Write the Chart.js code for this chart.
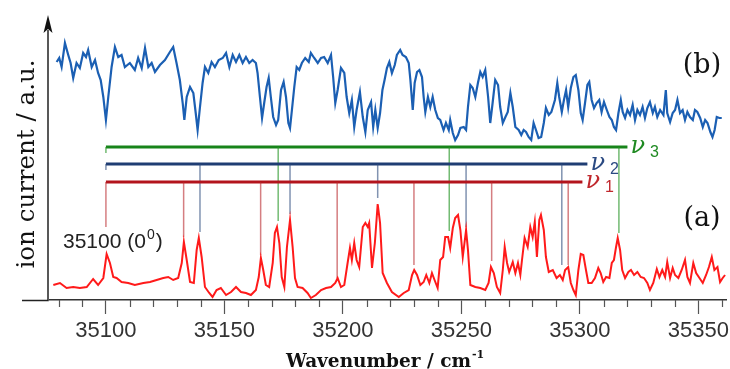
<!DOCTYPE html>
<html>
<head>
<meta charset="utf-8">
<script src="https://cdn.jsdelivr.net/npm/chart.js@4.4.0/dist/chart.umd.min.js"></script>
<style>
  html, body { margin: 0; padding: 0; background: #fff; }
  #wrap { width: 730px; height: 369px; }
</style>
</head>
<body>
<div id="wrap"><canvas id="spectrum" width="730" height="369"></canvas></div>
<script>
// x range and tick labels (cm-1)
const xMin = 35076.4
const xMax = 35361.7
const tickLabels = [35100, 35150, 35200, 35250, 35300, 35350]

// (a) lower trace, red
const redWavenumber = [
  35077.8, 35080.6, 35083.4, 35086.2, 35089.0, 35091.9, 35094.6, 35096.7, 35098.9, 35100.3,
  35101.7, 35103.1, 35104.5, 35106.6, 35109.4, 35112.2, 35115.8, 35118.6, 35121.4, 35124.2,
  35126.3, 35128.4, 35130.5, 35132.0, 35132.9, 35134.1, 35135.5, 35137.1, 35138.3, 35139.2,
  35140.4, 35141.8, 35143.6, 35145.0, 35146.7, 35148.5, 35150.7, 35152.8, 35154.9, 35157.0,
  35159.1, 35161.2, 35163.3, 35164.5, 35165.4, 35166.4, 35167.5, 35168.9, 35170.4, 35171.3,
  35172.2, 35173.2, 35174.2, 35175.3, 35176.4, 35177.7, 35178.8, 35179.8, 35180.9, 35183.0,
  35185.1, 35186.5, 35188.6, 35190.8, 35192.9, 35195.0, 35196.8, 35197.8, 35199.2, 35200.6,
  35202.0, 35203.0, 35203.8, 35204.8, 35205.8, 35206.9, 35208.4, 35209.5, 35210.5, 35211.1,
  35212.3, 35213.5, 35214.7, 35215.7, 35216.8, 35218.6, 35220.7, 35223.6, 35225.7, 35227.8,
  35229.2, 35230.1, 35231.3, 35232.7, 35234.1, 35235.2, 35236.5, 35237.6, 35238.7, 35240.0,
  35241.1, 35242.3, 35243.2, 35244.4, 35245.3, 35246.4, 35247.4, 35248.6, 35249.6, 35250.6,
  35252.0, 35252.8, 35253.8, 35255.9, 35258.0, 35260.1, 35261.5, 35262.5, 35263.7, 35265.0,
  35266.4, 35267.5, 35268.3, 35269.3, 35270.2, 35271.7, 35272.8, 35273.9, 35274.9, 35275.6,
  35276.7, 35278.0, 35279.1, 35280.1, 35281.0, 35281.9, 35282.9, 35283.6, 35284.8, 35285.7,
  35286.9, 35288.6, 35290.2, 35291.6, 35292.8, 35293.8, 35295.1, 35296.2, 35297.3, 35298.3,
  35299.4, 35300.4, 35301.5, 35302.6, 35303.6, 35305.0, 35306.4, 35307.8, 35308.8, 35309.9,
  35311.1, 35312.5, 35313.5, 35314.4, 35315.3, 35316.0, 35317.0, 35317.9, 35319.1, 35320.5,
  35321.6, 35322.9, 35324.3, 35325.7, 35327.1, 35328.5, 35329.6, 35331.0, 35332.5, 35333.6,
  35334.8, 35336.0, 35336.9, 35338.1, 35339.2, 35340.2, 35341.6, 35343.0, 35344.4, 35345.4,
  35346.5, 35347.9, 35349.1, 35350.5, 35351.9, 35353.3, 35354.5, 35355.7, 35356.8, 35358.1,
  35359.2, 35360.3, 35361.3
]
const redSignal = [
  15, 17, 12, 13, 12, 13, 21, 15, 22, 46,
  37, 23, 22, 18, 17, 15, 17, 18, 20, 22,
  23, 20, 22, 37, 58, 40, 18, 17, 50, 62,
  43, 13, 7, 3, 10, 12, 5, 8, 13, 8,
  7, 5, 10, 23, 42, 30, 15, 13, 37, 67,
  73, 57, 23, 13, 53, 80, 53, 22, 13, 12,
  7, 2, 5, 10, 12, 13, 17, 22, 13, 15,
  37, 52, 40, 57, 40, 33, 73, 77, 73, 77,
  32, 57, 96, 77, 27, 17, 8, 3, 7, 10,
  25, 30, 25, 15, 18, 25, 17, 27, 20, 12,
  40, 43, 63, 63, 52, 72, 82, 85, 70, 43,
  70, 50, 15, 13, 12, 10, 17, 33, 27, 13,
  7, 30, 53, 37, 28, 38, 27, 37, 25, 40,
  62, 53, 73, 63, 78, 43, 80, 85, 70, 43,
  28, 30, 22, 25, 20, 30, 33, 17, 10, 5,
  30, 46, 45, 30, 17, 17, 22, 32, 27, 18,
  23, 22, 37, 40, 53, 62, 50, 30, 22, 28,
  30, 25, 28, 23, 22, 17, 10, 17, 31, 23,
  30, 23, 38, 22, 32, 25, 22, 30, 40, 23,
  17, 37, 27, 22, 17, 25, 33, 43, 30, 33,
  18, 22, 25
]

// (b) upper trace, blue
const blueWavenumber = [
  35079.2, 35080.3, 35081.3, 35082.7, 35084.1, 35085.1, 35086.2, 35087.6, 35089.0, 35090.4,
  35091.6, 35092.5, 35094.0, 35095.4, 35096.7, 35097.8, 35098.9, 35100.0, 35101.0, 35102.4,
  35103.8, 35105.2, 35106.6, 35108.0, 35110.1, 35112.2, 35113.6, 35115.1, 35116.5, 35117.9,
  35119.3, 35120.7, 35122.8, 35124.9, 35127.0, 35128.4, 35129.8, 35131.2, 35132.4, 35133.1,
  35134.1, 35135.5, 35136.9, 35137.9, 35138.7, 35139.7, 35140.8, 35141.8, 35143.2, 35144.6,
  35146.0, 35147.6, 35149.3, 35150.7, 35152.1, 35153.5, 35154.9, 35156.3, 35157.7, 35159.1,
  35160.5, 35161.9, 35163.3, 35164.0, 35165.0, 35165.9, 35166.8, 35167.8, 35168.7, 35169.6,
  35170.6, 35171.8, 35172.7, 35173.9, 35175.0, 35176.0, 35177.0, 35177.7, 35178.5, 35179.5,
  35180.5, 35181.6, 35182.7, 35184.1, 35185.6, 35186.5, 35187.9, 35189.4, 35190.8, 35192.1,
  35193.6, 35195.0, 35195.9, 35196.8, 35197.8, 35199.2, 35200.6, 35201.6, 35202.7, 35203.8,
  35204.8, 35205.8, 35207.2, 35208.4, 35209.5, 35210.5, 35211.9, 35212.8, 35213.7, 35214.7,
  35215.7, 35216.7, 35217.6, 35218.6, 35219.6, 35220.7, 35221.9, 35222.8, 35224.2, 35225.2,
  35226.6, 35227.8, 35228.5, 35229.5, 35230.3, 35231.3, 35232.3, 35233.4, 35234.1, 35234.8,
  35235.9, 35236.9, 35237.9, 35239.0, 35240.1, 35241.1, 35242.5, 35243.5, 35244.7, 35245.3,
  35246.4, 35247.4, 35248.6, 35249.6, 35251.0, 35252.0, 35252.8, 35253.8, 35254.8, 35255.9,
  35257.0, 35258.0, 35259.0, 35260.1, 35261.3, 35262.2, 35263.2, 35264.3, 35265.5, 35266.4,
  35267.5, 35268.6, 35269.6, 35270.7, 35271.7, 35272.8, 35274.2, 35275.3, 35276.3, 35277.3,
  35278.4, 35279.5, 35280.5, 35281.5, 35282.6, 35283.7, 35284.8, 35285.7, 35286.9, 35288.0,
  35289.5, 35290.5, 35291.3, 35292.4, 35293.3, 35294.2, 35295.1, 35296.2, 35297.3, 35298.3,
  35299.4, 35300.4, 35301.2, 35302.2, 35303.2, 35304.0, 35305.0, 35306.0, 35307.1, 35308.2,
  35309.2, 35310.2, 35311.4, 35312.5, 35313.5, 35314.4, 35315.3, 35316.3, 35317.3, 35318.1,
  35319.1, 35320.1, 35321.2, 35322.3, 35323.3, 35324.3, 35325.4, 35326.5, 35327.5, 35328.5,
  35329.6, 35330.8, 35331.7, 35332.7, 35333.9, 35335.3, 35336.3, 35336.9, 35338.1, 35339.2,
  35340.2, 35341.2, 35342.3, 35343.4, 35344.4, 35345.4, 35346.5, 35347.7, 35348.6, 35349.6,
  35350.8, 35351.9, 35352.9, 35353.9, 35355.1, 35356.0, 35356.9, 35357.8, 35358.9, 35359.9
]
const blueSignal = [
  238, 242, 233, 257, 245, 237, 222, 237, 232, 247,
  243, 250, 233, 240, 227, 220, 203, 180, 203, 233,
  253, 243, 245, 233, 237, 230, 242, 232, 252, 233,
  237, 228, 235, 240, 248, 253, 237, 220, 197, 180,
  203, 213, 207, 187, 170, 193, 217, 233, 227, 238,
  233, 240, 242, 247, 233, 245, 238, 245, 237, 243,
  237, 240, 237, 227, 203, 182, 197, 213, 222, 203,
  183, 175, 180, 210, 218, 203, 177, 172, 190, 213,
  233, 230, 237, 242, 238, 247, 242, 237, 242, 243,
  237, 245, 223, 197, 210, 232, 227, 203, 187, 200,
  173, 190, 208, 183, 168, 190, 198, 173, 190, 172,
  187, 210, 220, 232, 238, 227, 235, 245, 250, 245,
  243, 237, 220, 190, 217, 228, 230, 223, 203, 188,
  203, 193, 203, 190, 182, 180, 170, 177, 170, 180,
  167, 160, 165, 172, 173, 170, 193, 215, 212, 203,
  217, 228, 223, 230, 203, 177, 197, 220, 215, 193,
  177, 183, 188, 207, 193, 173, 170, 165, 170, 168,
  163, 160, 177, 170, 162, 163, 177, 192, 185, 188,
  200, 217, 203, 188, 200, 210, 193, 212, 223, 225,
  210, 187, 180, 197, 215, 218, 200, 192, 197, 200,
  188, 198, 190, 183, 180, 173, 170, 187, 200, 188,
  182, 190, 185, 195, 180, 190, 185, 193, 182, 192,
  198, 187, 193, 183, 190, 185, 210, 187, 178, 187,
  190, 200, 187, 190, 180, 188, 183, 180, 190, 188,
  182, 173, 180, 177, 168, 163, 170, 183, 182, 182
]

// progressions: band positions, level of the bar and lower end of each marker
const nu1Position = [35100, 35132.8, 35165.3, 35197.6, 35230.0, 35262.8, 35295.1]
const nu1Bottom = [73, 63, 45, 22, 35, 39, 35]
const nu1Level = 118
const nu1End = 35301.1

const nu2Position = [35100, 35139.7, 35177.7, 35214.7, 35252.0, 35292.4]
const nu2Bottom = [130, 68, 86, 102, 73, 35]
const nu2Level = 136
const nu2End = 35303.2

const nu3Position = [35100, 35172.7, 35244.9, 35316.5]
const nu3Bottom = [147, 79, 69, 67]
const nu3Level = 153
const nu3End = 35320.1

const toPoints = (xs, ys) => xs.map((v, i) => ({ x: v, y: ys[i] }))

function markerPoints(pos, bottom, level) {
  const pts = []
  pos.forEach((p, i) => {
    pts.push({ x: p, y: level }, { x: p, y: bottom[i] }, { x: p, y: null })
  })
  return pts
}

const progressions = [
  { name: '1', pos: nu1Position, bottom: nu1Bottom, level: nu1Level, end: nu1End,
    bar: '#b3141c', mark: 'rgba(185, 40, 45, 0.6)', text: '#c0282d' },
  { name: '2', pos: nu2Position, bottom: nu2Bottom, level: nu2Level, end: nu2End,
    bar: '#1f3d73', mark: 'rgba(45, 75, 125, 0.6)', text: '#2b4a82' },
  { name: '3', pos: nu3Position, bottom: nu3Bottom, level: nu3Level, end: nu3End,
    bar: '#17841a', mark: 'rgba(40, 150, 40, 0.65)', text: '#1f8a22' }
]

const datasets = [
  { data: toPoints(blueWavenumber, blueSignal), borderColor: '#1b5fb3', borderWidth: 2.2 },
  { data: toPoints(redWavenumber, redSignal), borderColor: '#ff1a1a', borderWidth: 2 }
]
progressions.forEach(p => {
  datasets.push({ data: markerPoints(p.pos, p.bottom, p.level), borderColor: p.mark, borderWidth: 1.5, spanGaps: false })
  datasets.push({ data: [{ x: p.pos[0], y: p.level }, { x: p.end, y: p.level }], borderColor: p.bar, borderWidth: 3 })
})

// minor ticks, y axis arrow and all the text
const decorations = {
  id: 'decorations',
  afterDraw(chart) {
    const { ctx, chartArea } = chart
    const x = chart.scales.x
    const y = chart.scales.y
    const base = chartArea.bottom
    ctx.save()

    // minor ticks every 10 cm-1
    ctx.strokeStyle = '#555'
    ctx.lineWidth = 1.2
    x.ticks.forEach(t => {
      if (Math.round(t.value) % 50 !== 0) {
        const px = Math.round(x.getPixelForValue(t.value)) + 0.5
        ctx.beginPath()
        ctx.moveTo(px, base)
        ctx.lineTo(px, base + 7)
        ctx.stroke()
      }
    })

    // y axis with arrow
    const ax = chartArea.left - 2
    ctx.strokeStyle = '#222'
    ctx.lineWidth = 1.5
    ctx.beginPath()
    ctx.moveTo(22, base + 0.5)
    ctx.lineTo(ax, base + 0.5)
    ctx.lineTo(ax, 30)
    ctx.stroke()
    ctx.fillStyle = '#111'
    ctx.beginPath()
    ctx.moveTo(ax, 15)
    ctx.lineTo(ax - 4.5, 33)
    ctx.lineTo(ax, 29)
    ctx.lineTo(ax + 4.5, 33)
    ctx.closePath()
    ctx.fill()

    // axis titles
    ctx.fillStyle = '#111'
    ctx.save()
    ctx.translate(34, 164)
    ctx.rotate(-Math.PI / 2)
    ctx.font = '24.5px "DejaVu Serif"'
    ctx.textAlign = 'center'
    ctx.textBaseline = 'alphabetic'
    ctx.fillText('ion current / a.u.', 0, 0)
    ctx.restore()

    ctx.font = 'bold 18.5px "DejaVu Serif"'
    ctx.textBaseline = 'alphabetic'
    ctx.textAlign = 'left'
    const xt = 'Wavenumber / cm'
    const xw = ctx.measureText(xt).width
    const xl = 383 - (xw + 9) / 2
    ctx.fillText(xt, xl, 367)
    ctx.font = 'bold 11px "DejaVu Serif"'
    ctx.fillText('-1', xl + xw + 1, 358)

    // panel labels
    ctx.font = '27px "DejaVu Serif"'
    ctx.textAlign = 'center'
    ctx.textBaseline = 'middle'
    ctx.fillText('(b)', 702, 66)
    ctx.fillText('(a)', 702, 219)

    // origin label
    ctx.font = '21px "Liberation Sans"'
    ctx.textAlign = 'left'
    ctx.textBaseline = 'alphabetic'
    ctx.fillStyle = '#222'
    let tx = 63
    ctx.fillText('35100 (0', tx, 248)
    tx += ctx.measureText('35100 (0').width
    ctx.font = '14px "Liberation Sans"'
    ctx.fillText('0', tx + 1, 239)
    tx += ctx.measureText('0').width + 2
    ctx.font = '21px "Liberation Sans"'
    ctx.fillText(')', tx, 248)

    // progression labels
    progressions.forEach(p => {
      const px = x.getPixelForValue(p.end) + 3
      const py = y.getPixelForValue(p.level)
      ctx.fillStyle = p.text
      ctx.font = 'italic 24px "DejaVu Serif"'
      ctx.fillText('\u03bd', px, py + 6)
      const w = ctx.measureText('\u03bd').width
      ctx.font = '16px "Liberation Sans"'
      ctx.fillText(p.name, px + w + 5, py + 10)
    })
    ctx.restore()
  }
}

new Chart(document.getElementById('spectrum'), {
  type: 'line',
  data: { datasets },
  options: {
    responsive: false,
    animation: false,
    events: [],
    layout: { padding: { left: 50, right: 4, top: 15, bottom: 0 } },
    elements: { point: { radius: 0 }, line: { tension: 0 } },
    plugins: { legend: { display: false }, tooltip: { enabled: false } },
    scales: {
      x: {
        type: 'linear',
        min: xMin,
        max: xMax,
        afterFit: s => { s.height = 69 },
        border: { display: true, color: '#333', width: 1.5 },
        grid: {
          drawOnChartArea: false,
          tickLength: 14,
          tickWidth: 1.2,
          tickColor: c => (c.tick && Math.round(c.tick.value) % 50 === 0) ? '#555' : 'rgba(0,0,0,0)'
        },
        ticks: {
          stepSize: 10,
          includeBounds: false,
          autoSkip: false,
          maxRotation: 0,
          padding: 4,
          color: '#333',
          font: { family: 'Liberation Sans', size: 22 },
          callback: v => tickLabels.includes(Math.round(v)) ? String(Math.round(v)) : ''
        }
      },
      y: { type: 'linear', display: false, min: 0, max: 285 }
    }
  },
  plugins: [decorations]
})
</script>
</body>
</html>
